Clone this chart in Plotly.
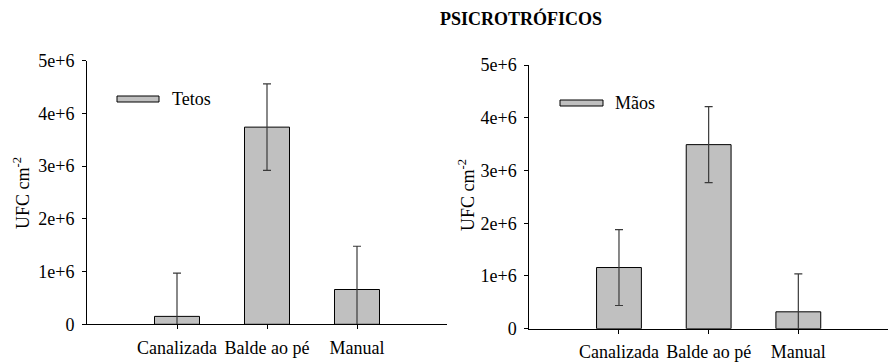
import plotly.graph_objects as go

# Psychrotrophic counts by milking system
categories = ["Canalizada", "Balde ao pé", "Manual"]
tetos_mean = [1.5e5, 3.74e6, 0.66e6]
tetos_err = [0.82e6, 0.82e6, 0.82e6]
maos_mean = [1.16e6, 3.49e6, 0.32e6]
maos_err = [0.72e6, 0.72e6, 0.72e6]

y_tickvals = [0, 1e6, 2e6, 3e6, 4e6, 5e6]
y_ticktext = ["0", "1e+6", "2e+6", "3e+6", "4e+6", "5e+6"]

FONT = "Liberation Serif, Times New Roman, serif"
FS = 18
BAR_FILL = "#c0c0c0"
ERR_COLOR = "#3a3a3a"

fig = go.Figure()


def bar_trace(values, errors, name, xa, ya):
    return go.Bar(
        x=list(range(len(categories))), y=values, name=name,
        width=0.5, xaxis=xa, yaxis=ya, showlegend=False,
        marker=dict(color=BAR_FILL, line=dict(color="black", width=1)),
        error_y=dict(type="data", array=errors, visible=True,
                     color=ERR_COLOR, thickness=1.2, width=4),
    )


fig.add_trace(bar_trace(tetos_mean, tetos_err, "Tetos", "x", "y"))
fig.add_trace(bar_trace(maos_mean, maos_err, "Mãos", "x2", "y2"))

W, H = 889, 363


def px_x(p):
    return p / W


def px_y(p):
    return 1 - p / H


common_x = dict(
    range=[-1, 3], tickvals=list(range(len(categories))), ticktext=categories,
    showline=True, linecolor="black", linewidth=1, ticks="outside", ticklen=4,
    tickcolor="black", showgrid=False, zeroline=False, automargin=False,
    ticklabelstandoff=3,
    tickfont=dict(family=FONT, size=FS, color="black"),
)
common_y = dict(
    range=[0, 5e6], tickvals=y_tickvals, ticktext=y_ticktext,
    showline=True, linecolor="black", linewidth=1, ticks="outside", ticklen=4,
    tickcolor="black", showgrid=False, zeroline=False, automargin=False,
    ticklabelstandoff=4,
    tickfont=dict(family=FONT, size=FS, color="black"),
)

fig.update_layout(
    width=W, height=H, margin=dict(l=0, r=0, t=0, b=0),
    paper_bgcolor="white", plot_bgcolor="white",
    font=dict(family=FONT, size=FS, color="black"),
    xaxis=dict(domain=[px_x(87), px_x(447)], anchor="y", **common_x),
    yaxis=dict(domain=[px_y(324.3), px_y(60.7)], anchor="x", **common_y),
    xaxis2=dict(domain=[px_x(529.3), px_x(888)], anchor="y2", **common_x),
    yaxis2=dict(domain=[px_y(328.7), px_y(65)], anchor="x2", **common_y),
    showlegend=False,
)

annotations = [
    dict(text="<b>PSICROTRÓFICOS</b>", x=px_x(521), y=px_y(19),
         font=dict(family=FONT, size=18, color="black")),
    dict(text="UFC cm<sup>-2</sup>", x=px_x(21), y=px_y(193), textangle=-90,
         font=dict(family=FONT, size=FS, color="black")),
    dict(text="UFC cm<sup>-2</sup>", x=px_x(466), y=px_y(195), textangle=-90,
         font=dict(family=FONT, size=FS, color="black")),
    dict(text="Tetos", x=px_x(170), y=px_y(99), xanchor="left",
         font=dict(family=FONT, size=FS, color="black")),
    dict(text="Mãos", x=px_x(613), y=px_y(103), xanchor="left",
         font=dict(family=FONT, size=FS, color="black")),
]
for a in annotations:
    a.setdefault("xanchor", "center")
    fig.add_annotation(xref="paper", yref="paper", showarrow=False, yanchor="middle", **a)

# Legend swatches
for x0, x1, yc in [(117, 159, 99), (560, 603, 103)]:
    fig.add_shape(type="rect", xref="paper", yref="paper",
                  x0=px_x(x0), x1=px_x(x1), y0=px_y(yc + 3), y1=px_y(yc - 3),
                  fillcolor=BAR_FILL, line=dict(color="black", width=1))

fig.write_html("out.html")
